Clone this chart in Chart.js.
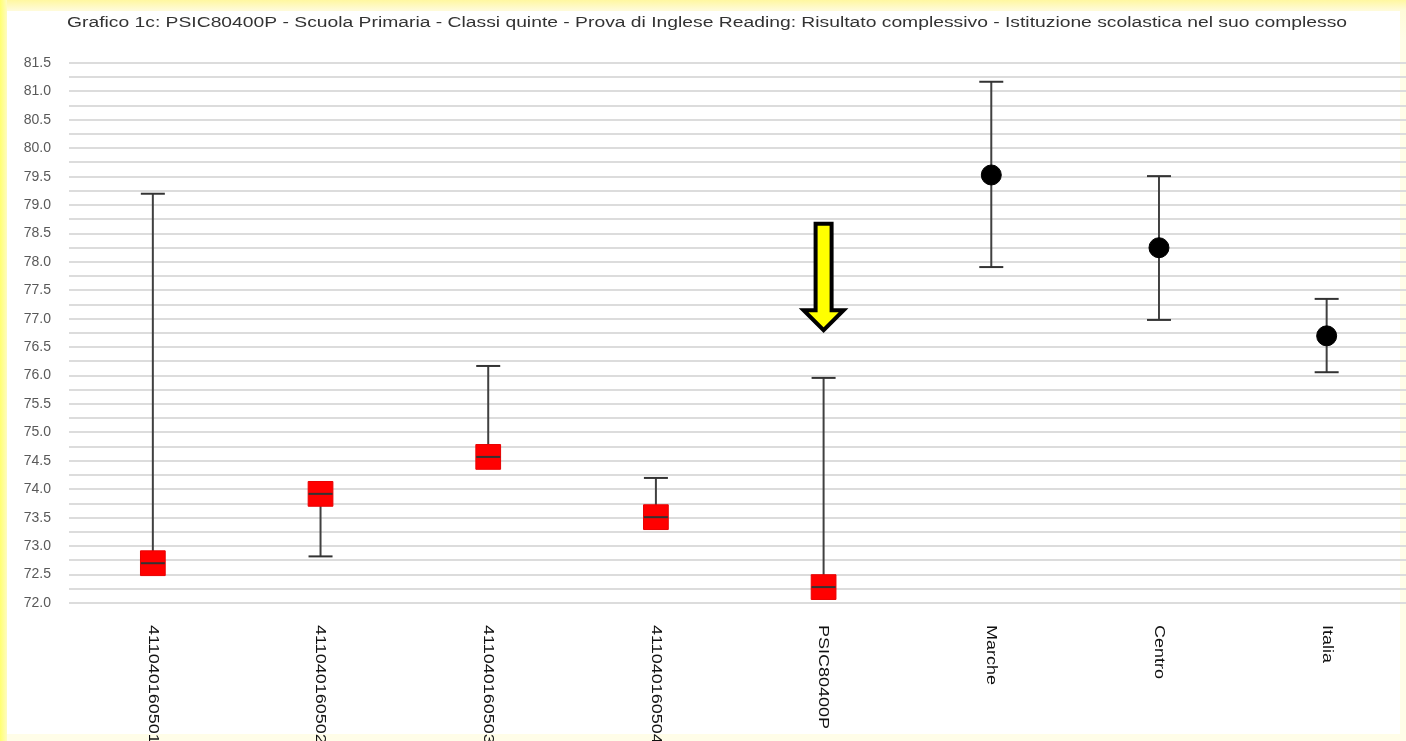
<!DOCTYPE html>
<html>
<head>
<meta charset="utf-8">
<script src="https://cdn.jsdelivr.net/npm/chart.js@4/dist/chart.umd.min.js"></script>
<style>
  body { margin: 0; width: 1406px; height: 741px; overflow: hidden; position: relative;
         background: linear-gradient(to bottom, #fff7a0 0px, #fffbd8 10px, #fffde8 40px, #fffde8 100%); font-family: "Liberation Sans", Arial, sans-serif; }
  #striscia { position: absolute; left: 0; top: 0; width: 7px; height: 741px;
              background: linear-gradient(to right, #ffff70, #fffcc0); }
  #foglio { position: absolute; left: 7px; top: 11px; width: 1393px; height: 723px; background: #fff; }
  #grafico { position: absolute; left: 0; top: 0; }
</style>
</head>
<body>
<div id="striscia"></div>
<div id="foglio"></div>
<canvas id="grafico" width="1429" height="741"></canvas>
<script>
var titolo = 'Grafico 1c: PSIC80400P - Scuola Primaria - Classi quinte - Prova di Inglese Reading: Risultato complessivo - Istituzione scolastica nel suo complesso';

var etichette = ['411040160501', '411040160502', '411040160503', '411040160504', 'PSIC80400P', 'Marche', 'Centro', 'Italia'];

// punteggio medio e intervallo (estremo inferiore / superiore)
var punteggio = [72.7, 73.92, 74.57, 73.51, 72.28, 79.53, 78.25, 76.70];
var limiteInf = [72.7, 72.82, 74.57, 73.51, 72.28, 77.91, 76.98, 76.06];
var limiteSup = [79.2, 73.92, 76.17, 74.2, 75.96, 81.17, 79.51, 77.35];

// quanti sono classi/scuola (quadrati rossi), gli altri sono riferimenti (cerchi neri)
var numClassi = 5;

var classi = punteggio.map(function (v, i) { return i < numClassi ? v : null; });
var riferimenti = punteggio.map(function (v, i) { return i >= numClassi ? v : null; });

var erroriPlugin = {
    id: 'errori',
    beforeDatasetsDraw: function (chart) {
        var ctx = chart.ctx, x = chart.scales.x, y = chart.scales.y;
        ctx.save();
        ctx.strokeStyle = '#404040';
        ctx.lineWidth = 2;
        for (var i = 0; i < etichette.length; i++) {
            var px = x.getPixelForValue(i);
            ctx.beginPath();
            ctx.moveTo(px, y.getPixelForValue(limiteInf[i]));
            ctx.lineTo(px, y.getPixelForValue(limiteSup[i]));
            ctx.stroke();
        }
        ctx.restore();
    },
    afterDatasetsDraw: function (chart) {
        var ctx = chart.ctx, x = chart.scales.x, y = chart.scales.y;
        ctx.save();
        ctx.strokeStyle = '#333';
        ctx.lineWidth = 2;
        for (var i = 0; i < etichette.length; i++) {
            var px = x.getPixelForValue(i);
            [limiteInf[i], limiteSup[i]].forEach(function (v) {
                var py = y.getPixelForValue(v);
                ctx.beginPath();
                ctx.moveTo(px - 12, py);
                ctx.lineTo(px + 12, py);
                ctx.stroke();
            });
        }
        ctx.restore();
    }
};

// freccia gialla sopra PSIC80400P
var freccia = { indice: 4, cima: 78.67, attacco: 77.15, punta: 76.80 };

var testiPlugin = {
    id: 'testi',
    afterDraw: function (chart) {
        var ctx = chart.ctx, x = chart.scales.x, y = chart.scales.y;

        // titolo (stirato in orizzontale come nell'immagine)
        ctx.save();
        ctx.font = '14px "Liberation Sans", Arial, sans-serif';
        ctx.fillStyle = '#333';
        ctx.textAlign = 'center';
        ctx.textBaseline = 'middle';
        var w = ctx.measureText(titolo).width;
        ctx.translate(707, 23);
        ctx.scale(1280 / w, 1);
        ctx.fillText(titolo, 0, 0);
        ctx.restore();

        // etichette asse x ruotate di 90 gradi
        ctx.save();
        ctx.font = '15px "Liberation Sans", Arial, sans-serif';
        ctx.fillStyle = '#111';
        ctx.textAlign = 'left';
        ctx.textBaseline = 'middle';
        for (var i = 0; i < etichette.length; i++) {
            ctx.save();
            ctx.translate(x.getPixelForValue(i), chart.chartArea.bottom + 22);
            ctx.rotate(Math.PI / 2);
            ctx.scale(1.2, 1);
            ctx.fillText(etichette[i], 0, 0);
            ctx.restore();
        }
        ctx.restore();

        // freccia
        var px = x.getPixelForValue(freccia.indice);
        var yc = y.getPixelForValue(freccia.cima);
        var ya = y.getPixelForValue(freccia.attacco);
        var yp = y.getPixelForValue(freccia.punta);
        ctx.save();
        ctx.beginPath();
        ctx.moveTo(px - 8, yc);
        ctx.lineTo(px + 8, yc);
        ctx.lineTo(px + 8, ya);
        ctx.lineTo(px + 20, ya);
        ctx.lineTo(px, yp);
        ctx.lineTo(px - 20, ya);
        ctx.lineTo(px - 8, ya);
        ctx.closePath();
        ctx.fillStyle = '#ffff00';
        ctx.fill();
        ctx.lineWidth = 4;
        ctx.lineJoin = 'miter';
        ctx.strokeStyle = '#000';
        ctx.stroke();
        ctx.restore();
    }
};

new Chart(document.getElementById('grafico'), {
    type: 'line',
    data: {
        labels: etichette,
        datasets: [
            {
                label: 'Classi',
                data: classi,
                showLine: false,
                pointStyle: 'rect',
                pointRadius: 17.5,
                backgroundColor: '#ff0000',
                borderColor: '#e80000',
                borderWidth: 1
            },
            {
                label: 'Riferimenti',
                data: riferimenti,
                showLine: false,
                pointStyle: 'circle',
                pointRadius: 10,
                backgroundColor: '#000',
                borderColor: '#000',
                borderWidth: 1
            }
        ]
    },
    options: {
        responsive: false,
        animation: false,
        devicePixelRatio: 1,
        events: [],
        layout: { padding: { left: 8, right: 1, top: 63, bottom: 0 } },
        plugins: {
            legend: { display: false },
            title: { display: false },
            tooltip: { enabled: false }
        },
        scales: {
            x: {
                offset: true,
                grid: { display: false },
                border: { display: false },
                ticks: { display: false },
                afterFit: function (s) { s.height = 138; }
            },
            y: {
                min: 72,
                max: 81.5,
                border: { display: false },
                grid: { color: '#dcdcdc', lineWidth: 2, drawTicks: false },
                ticks: {
                    stepSize: 0.25,
                    autoSkip: false,
                    padding: 18,
                    color: '#595959',
                    font: { size: 14, family: '"Liberation Sans", Arial, sans-serif' },
                    callback: function (v) { return (v * 2) % 1 === 0 ? v.toFixed(1) : ''; }
                },
                afterFit: function (s) { s.width = 61; }
            }
        }
    },
    plugins: [erroriPlugin, testiPlugin]
});
</script>
</body>
</html>
